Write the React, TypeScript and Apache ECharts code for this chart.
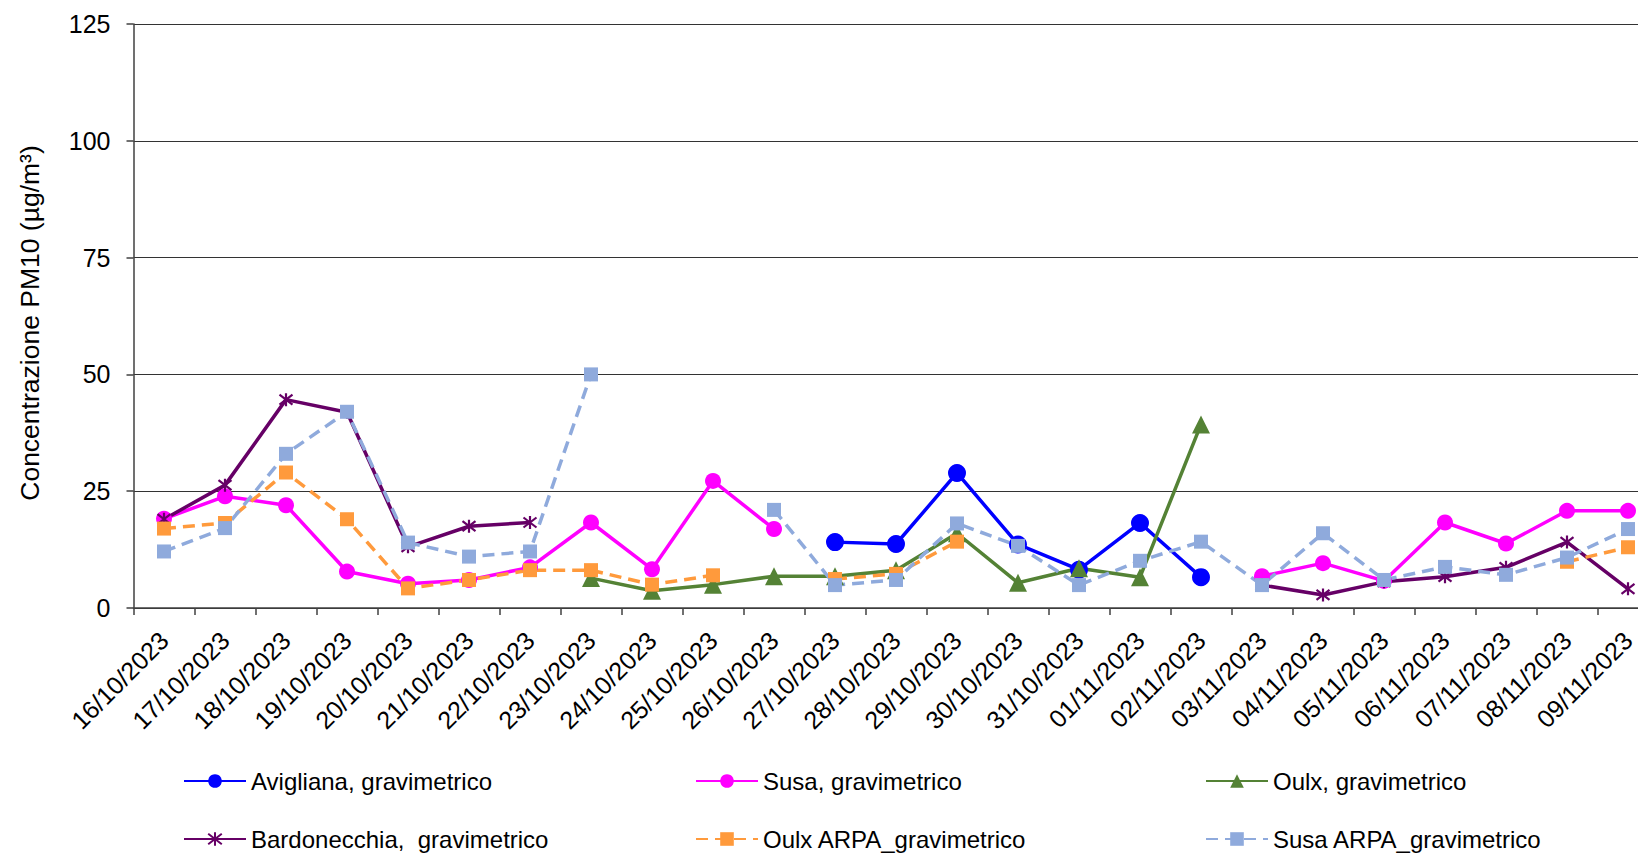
import React, { useEffect, useRef } from "react";
import * as echarts from "echarts";

const categories = [
  "16/10/2023", "17/10/2023", "18/10/2023", "19/10/2023", "20/10/2023", "21/10/2023",
  "22/10/2023", "23/10/2023", "24/10/2023", "25/10/2023", "26/10/2023", "27/10/2023",
  "28/10/2023", "29/10/2023", "30/10/2023", "31/10/2023", "01/11/2023", "02/11/2023",
  "03/11/2023", "04/11/2023", "05/11/2023", "06/11/2023", "07/11/2023", "08/11/2023",
  "09/11/2023",
];

const avigliana = [null, null, null, null, null, null, null, null, null, null, null,
  14.1, 13.7, 28.9, 13.6, 8.2, 18.2, 6.6,
  null, null, null, null, null, null, null];

const susa = [19.1, 23.9, 22.0, 7.8, 5.2, 6.0, 8.7, 18.3, 8.3, 27.2, 16.9,
  null, null, null, null, null, null, null,
  6.8, 9.6, 5.8, 18.3, 13.8, 20.8, 20.8];

const oulx = [null, null, null, null, null, null, null,
  6.4, 3.7, 5.0, 6.8, 6.8, 8.1, 16.0, 5.4, 8.5, 6.6, 39.3,
  null, null, null, null, null, null, null];

const bardonecchia = [19.0, 26.3, 44.6, 41.9, 13.1, 17.5, 18.3,
  null, null, null, null, null, null, null, null, null, null, null,
  4.9, 2.8, 5.6, 6.7, 8.7, 14.1, 4.1];

const oulxArpa = [17.0, 18.2, 29.0, 19.0, 4.2, 6.0, 8.1, 8.1, 5.0, 7.0, null,
  6.2, 7.3, 14.2, null, null, null, null, null, null, null, null, null,
  9.9, 13.0];

const susaArpa = [12.1, 17.1, 33.0, 42.0, 14.0, 11.0, 12.1, 50.0, null, null, 21.0,
  4.9, 6.0, 18.1, 13.3, 4.9, 10.1, 14.2, 4.9, 16.0, 6.0, 8.8, 7.1, 10.8, 16.9];

const yTicks = { min: 0, max: 125, interval: 25 };

const names = [
  "Avigliana, gravimetrico",
  "Susa, gravimetrico",
  "Oulx, gravimetrico",
  "Bardonecchia,  gravimetrico",
  "Oulx ARPA_gravimetrico",
  "Susa ARPA_gravimetrico",
];

const FONT = "'Liberation Sans', Arial, sans-serif";
const ASTERISK = "path://M0,0L10,10M10,0L0,10M5,-1.5L5,11.5";

export default function App() {
  const ref = useRef<HTMLDivElement>(null);

  useEffect(() => {
    if (!ref.current) return;
    const chart = echarts.init(ref.current, null, { renderer: "svg" });

    const legendPos = [
      { left: 183, top: 769 },
      { left: 695, top: 769 },
      { left: 1205, top: 769 },
      { left: 183, top: 827 },
      { left: 695, top: 827 },
      { left: 1205, top: 827 },
    ];

    const mkLine = (name: string, data: (number | null)[], color: string, opts: any) => ({
      name,
      type: "line",
      data,
      connectNulls: false,
      lineStyle: { color, width: 3.5, type: opts.dash || "solid" },
      itemStyle: opts.itemStyle || { color },
      symbol: opts.symbol,
      symbolSize: opts.symbolSize,
      showSymbol: true,
      emphasis: { disabled: true },
    });

    chart.setOption({
      animation: false,
      backgroundColor: "#ffffff",
      grid: {
        left: 133.5,
        top: 24,
        width: 1525,
        bottom: 246,
        containLabel: false,
        outerBoundsMode: "none",
      },
      legend: names.map((n, i) => ({
        data: [n],
        left: legendPos[i].left,
        top: legendPos[i].top,
        padding: 0,
        itemWidth: 62,
        itemHeight: 17,
        selectedMode: false,
        textStyle: { fontFamily: FONT, fontSize: 24, color: "#000" },
      })),
      xAxis: {
        type: "category",
        data: categories,
        boundaryGap: true,
        axisLine: { show: true, lineStyle: { color: "#404040", width: 1.5 } },
        axisTick: { show: true, length: 7, lineStyle: { color: "#404040", width: 1.5 } },
        axisLabel: {
          interval: 0,
          rotate: 45,
          margin: 28,
          align: "right",
          verticalAlign: "middle",
          fontFamily: FONT,
          fontSize: 25,
          color: "#000",
        },
        splitLine: { show: false },
      },
      yAxis: {
        type: "value",
        min: yTicks.min,
        max: yTicks.max,
        interval: yTicks.interval,
        name: "Concentrazione PM10 (µg/m³)",
        nameLocation: "middle",
        nameGap: 90,
        nameRotate: 90,
        nameTextStyle: { fontFamily: FONT, fontSize: 26.5, color: "#000", padding: [0, 14, 0, 0] },
        axisLine: { show: true, lineStyle: { color: "#404040", width: 1.5 } },
        axisTick: { show: true, length: 7, lineStyle: { color: "#404040", width: 1.5 } },
        axisLabel: { margin: 23, fontFamily: FONT, fontSize: 25, color: "#000" },
        splitLine: { show: true, lineStyle: { color: "#333333", width: 1 } },
      },
      series: [
        mkLine(names[0], avigliana, "#0000FF", { symbol: "circle", symbolSize: 18 }),
        mkLine(names[1], susa, "#FF00FF", { symbol: "circle", symbolSize: 16 }),
        mkLine(names[2], oulx, "#548235", { symbol: "triangle", symbolSize: 18 }),
        mkLine(names[3], bardonecchia, "#660066", {
          symbol: ASTERISK,
          symbolSize: 13,
          itemStyle: { color: "#660066", borderColor: "#660066", borderWidth: 2.2 },
        }),
        mkLine(names[4], oulxArpa, "#FF9A3C", { symbol: "rect", symbolSize: 14, dash: [12, 7] }),
        mkLine(names[5], susaArpa, "#8FAADC", { symbol: "rect", symbolSize: 14, dash: [12, 7] }),
      ],
    });

    return () => chart.dispose();
  }, []);

  return (
    <div
      ref={ref}
      style={{ position: "fixed", left: 0, top: 0, width: 1638, height: 854, background: "#fff" }}
    />
  );
}
